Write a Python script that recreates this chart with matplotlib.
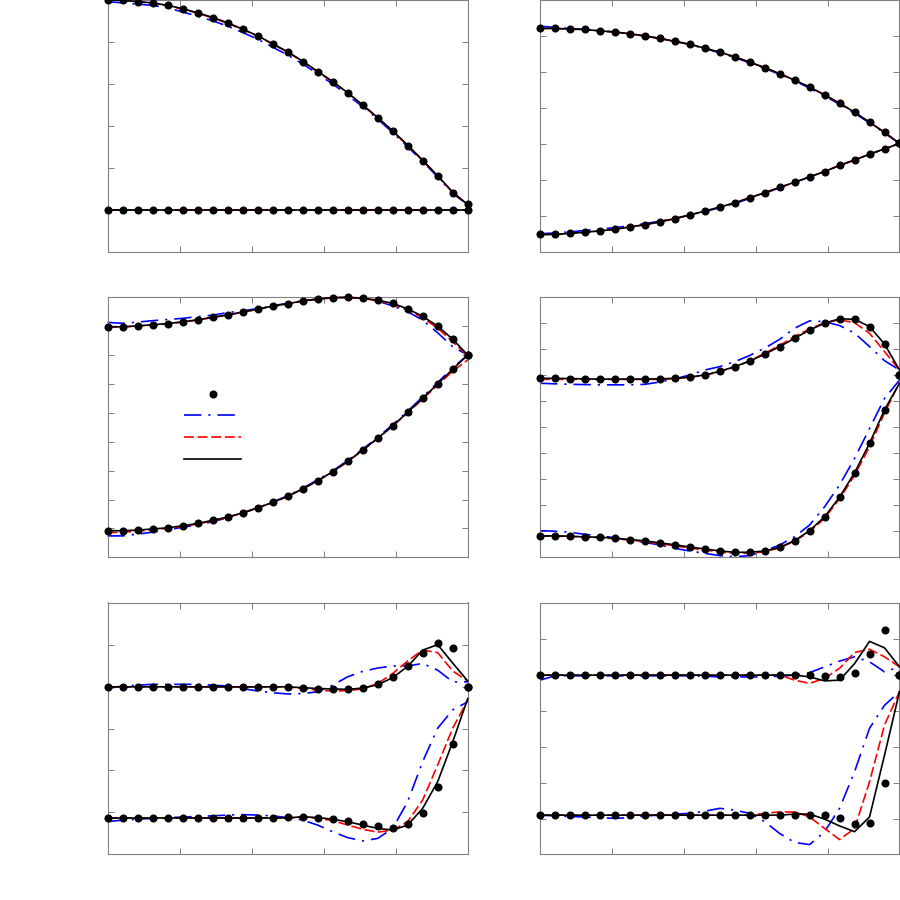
import numpy as np
import matplotlib
matplotlib.use("Agg")
import matplotlib.pyplot as plt
from matplotlib.lines import Line2D

plt.rcParams['lines.scale_dashes'] = False

# common x grid (chordwise position)
x = np.linspace(0.0, 1.0, 25)

# ---------------- panel 1 ----------------
p1_ref_up = [5.00, 4.99, 4.96, 4.93, 4.87, 4.79, 4.69, 4.58, 4.45, 4.30, 4.14, 3.95, 3.76,
             3.53, 3.29, 3.05, 2.78, 2.49, 2.19, 1.87, 1.53, 1.17, 0.80, 0.41, 0.14]
p1_ref_lo = [0.0] * 25
p1_blue_up = [4.96, 4.93, 4.90, 4.87, 4.81, 4.71, 4.61, 4.50, 4.37, 4.22, 4.06, 3.87, 3.68,
              3.47, 3.23, 2.99, 2.72, 2.45, 2.15, 1.83, 1.49, 1.14, 0.77, 0.38, 0.12]
p1_blue_lo = [0.0] * 25
p1_red_up = [5.00, 4.99, 4.96, 4.92, 4.86, 4.78, 4.68, 4.57, 4.44, 4.29, 4.13, 3.94, 3.75,
             3.52, 3.28, 3.04, 2.77, 2.48, 2.18, 1.86, 1.52, 1.16, 0.79, 0.40, 0.12]
p1_red_lo = [0.0] * 25
p1_blk_up = [5.00, 4.99, 4.96, 4.93, 4.87, 4.79, 4.69, 4.58, 4.45, 4.30, 4.14, 3.95, 3.76,
             3.53, 3.29, 3.05, 2.78, 2.49, 2.19, 1.87, 1.53, 1.17, 0.80, 0.41, 0.12]
p1_blk_lo = [0.0] * 25

# ---------------- panel 2 ----------------
p2_ref_up = [3.21, 3.21, 3.19, 3.18, 3.14, 3.11, 3.06, 3.00, 2.93, 2.85, 2.77, 2.66, 2.55,
             2.42, 2.27, 2.12, 1.95, 1.77, 1.58, 1.36, 1.13, 0.88, 0.60, 0.32, 0.01]
p2_ref_lo = [-2.52, -2.52, -2.49, -2.46, -2.42, -2.38, -2.31, -2.25, -2.17, -2.08, -1.98, -1.87,
             -1.76, -1.64, -1.50, -1.36, -1.21, -1.07, -0.92, -0.77, -0.60, -0.45, -0.29, -0.14, 0.01]
p2_blue_up = [3.27, 3.24, 3.21, 3.18, 3.14, 3.11, 3.06, 3.00, 2.93, 2.85, 2.76, 2.65, 2.53,
              2.40, 2.25, 2.10, 1.93, 1.75, 1.55, 1.33, 1.10, 0.85, 0.58, 0.30, 0.01]
p2_blue_lo = [-2.50, -2.48, -2.45, -2.41, -2.37, -2.33, -2.28, -2.22, -2.15, -2.07, -1.98, -1.88,
              -1.78, -1.66, -1.52, -1.38, -1.22, -1.07, -0.92, -0.77, -0.60, -0.45, -0.29, -0.14, 0.01]
p2_red_up = p2_ref_up[:-1] + [0.0]
p2_red_lo = p2_ref_lo[:-1] + [0.0]
p2_blk_up = p2_ref_up
p2_blk_lo = p2_ref_lo

# ---------------- panel 3 ----------------
p3_ref_up = [0.98, 0.98, 1.01, 1.05, 1.09, 1.15, 1.22, 1.31, 1.39, 1.49, 1.59, 1.69, 1.78,
             1.87, 1.94, 1.99, 2.00, 1.97, 1.90, 1.79, 1.60, 1.34, 1.00, 0.55, 0.00]
p3_ref_lo = [-6.08, -6.08, -6.06, -6.02, -5.98, -5.91, -5.83, -5.72, -5.61, -5.46, -5.29, -5.10,
             -4.89, -4.63, -4.35, -4.04, -3.68, -3.29, -2.88, -2.45, -1.98, -1.49, -1.00, -0.49, 0.00]
p3_blue_up = [1.13, 1.10, 1.14, 1.19, 1.23, 1.27, 1.33, 1.38, 1.47, 1.53, 1.61, 1.71, 1.79,
              1.88, 1.94, 1.99, 1.99, 1.96, 1.87, 1.70, 1.50, 1.21, 0.77, 0.29, 0.00]
p3_blue_lo = [-6.26, -6.26, -6.20, -6.13, -6.05, -5.96, -5.88, -5.77, -5.63, -5.47, -5.29, -5.09,
              -4.87, -4.61, -4.32, -4.01, -3.65, -3.26, -2.85, -2.41, -1.94, -1.45, -0.95, -0.44, 0.00]
p3_red_up = [0.97, 0.97, 1.00, 1.04, 1.08, 1.14, 1.21, 1.30, 1.38, 1.48, 1.58, 1.68, 1.77,
             1.86, 1.93, 1.98, 1.99, 1.96, 1.88, 1.76, 1.56, 1.29, 0.93, 0.46, -0.02]
p3_red_lo = [-6.15, -6.13, -6.10, -6.05, -6.00, -5.93, -5.85, -5.74, -5.62, -5.47, -5.30, -5.11,
             -4.90, -4.64, -4.36, -4.05, -3.69, -3.30, -2.89, -2.46, -2.00, -1.52, -1.04, -0.56, -0.17]
p3_blk_up = p3_ref_up
p3_blk_lo = p3_ref_lo

# ---------------- panel 4 ----------------
p4_ref_up = [-0.12, -0.12, -0.13, -0.14, -0.15, -0.15, -0.15, -0.15, -0.14, -0.12, -0.07, 0.01,
             0.15, 0.33, 0.54, 0.81, 1.10, 1.42, 1.74, 2.00, 2.17, 2.15, 1.87, 1.20, 0.01]
p4_ref_lo = [-6.18, -6.18, -6.19, -6.22, -6.23, -6.27, -6.32, -6.37, -6.45, -6.52, -6.61, -6.68,
             -6.76, -6.81, -6.81, -6.76, -6.62, -6.36, -5.98, -5.44, -4.69, -3.75, -2.62, -1.33, 0.01]
p4_blue_up = [-0.31, -0.33, -0.35, -0.36, -0.37, -0.37, -0.37, -0.35, -0.26, -0.14, 0.01, 0.20,
              0.33, 0.52, 0.76, 1.04, 1.38, 1.81, 2.09, 2.06, 1.91, 1.62, 1.10, 0.56, 0.20]
p4_blue_lo = [-5.98, -6.00, -6.04, -6.12, -6.18, -6.25, -6.34, -6.43, -6.53, -6.66, -6.76, -6.85,
              -6.94, -6.98, -6.94, -6.75, -6.53, -6.21, -5.76, -5.06, -4.22, -3.20, -2.05, -0.89, -0.19]
p4_red_up = [-0.16, -0.16, -0.16, -0.16, -0.16, -0.16, -0.16, -0.16, -0.16, -0.13, -0.08, 0.00,
             0.13, 0.31, 0.56, 0.84, 1.15, 1.49, 1.78, 2.02, 2.13, 2.02, 1.61, 0.91, 0.20]
p4_red_lo = [-6.19, -6.19, -6.20, -6.23, -6.25, -6.29, -6.34, -6.40, -6.48, -6.56, -6.65, -6.72,
             -6.80, -6.85, -6.85, -6.79, -6.64, -6.38, -6.02, -5.50, -4.75, -3.85, -2.75, -1.45, -0.28]
p4_blk_up = p4_ref_up[:-1] + [0.20]
p4_blk_lo = p4_ref_lo[:-1] + [-0.31]

# ---------------- panel 5 ----------------
p5_ref_up = [0.0] * 13 + [-0.02, -0.04, -0.06, -0.06, -0.02, 0.06, 0.24, 0.49, 0.81, 1.04, 0.92, 0.00]
p5_ref_lo = [-3.15] * 12 + [-3.12, -3.11, -3.13, -3.16, -3.21, -3.28, -3.34, -3.39, -3.29,
                            -3.01, -2.39, -1.36, 0.00]
p5_blue_up = [-0.04, 0.02, 0.04, 0.06, 0.06, 0.06, 0.06, 0.04, 0.02, -0.04, -0.10, -0.14, -0.17,
              -0.16, -0.12, 0.04, 0.24, 0.37, 0.45, 0.50, 0.50, 0.56, 0.40, 0.12, 0.12]
p5_blue_lo = [-3.23, -3.19, -3.17, -3.15, -3.13, -3.12, -3.10, -3.09, -3.07, -3.06, -3.07, -3.09,
              -3.13, -3.19, -3.31, -3.47, -3.61, -3.69, -3.63, -3.39, -2.75, -1.79, -0.99, -0.55, -0.36]
p5_red_up = [0.0] * 13 + [-0.04, -0.08, -0.10, -0.09, -0.05, 0.08, 0.32, 0.62, 0.88, 0.82, 0.38, 0.14]
p5_red_lo = [-3.14] * 13 + [-3.12, -3.15, -3.20, -3.31, -3.41, -3.48, -3.43, -3.23, -2.71,
                            -1.87, -0.99, -0.32]
p5_blk_up = [0.0] * 13 + [-0.02, -0.04, -0.05, -0.06, -0.03, 0.05, 0.22, 0.49, 0.88, 1.01, 0.57, 0.14]
p5_blk_lo = [-3.14] * 13 + [-3.11, -3.13, -3.17, -3.23, -3.31, -3.39, -3.43, -3.31, -2.91,
                            -2.27, -1.32, -0.28]

# ---------------- panel 6 ----------------
p6_ref_up = [0.0] * 19 + [-0.03, -0.05, 0.07, 0.59, 1.27, 0.00]
p6_ref_lo = [-3.90] * 20 + [-3.99, -4.15, -4.11, -3.00, 0.00]
p6_blue_up = [-0.14, -0.02, -0.02, -0.02, -0.02, -0.02, -0.02, -0.02, -0.02, -0.02, -0.02, -0.03,
              -0.05, -0.05, -0.05, -0.05, -0.03, 0.00, 0.07, 0.23, 0.39, 0.51, 0.37, 0.09, 0.23]
p6_blue_lo = [-3.90, -3.92, -3.94, -3.95, -3.97, -3.99, -3.97, -3.92, -3.90, -3.87, -3.85, -3.79,
              -3.71, -3.76, -3.85, -4.08, -4.41, -4.66, -4.72, -4.36, -3.71, -2.69, -1.48, -0.84, -0.46]
p6_red_up = [0.0] * 17 + [-0.14, -0.23, -0.09, 0.19, 0.63, 0.72, 0.51, 0.23]
p6_red_lo = [-3.90] * 15 + [-3.85, -3.81, -3.81, -3.95, -4.27, -4.58, -4.27, -2.97, -1.39, -0.46]
p6_blk_up = [0.0] * 18 + [-0.05, -0.16, -0.14, 0.32, 0.94, 0.76, 0.23]
p6_blk_lo = [-3.90] * 17 + [-3.87, -3.87, -4.01, -4.20, -4.36, -3.95, -2.23, -0.46]

panels = [
    dict(ref=(p1_ref_up, p1_ref_lo), blue=(p1_blue_up, p1_blue_lo), red=(p1_red_up, p1_red_lo),
         blk=(p1_blk_up, p1_blk_lo), ylim=(-1.0, 5.0), yticks=[0, 1, 2, 3, 4, 5]),
    dict(ref=(p2_ref_up, p2_ref_lo), blue=(p2_blue_up, p2_blue_lo), red=(p2_red_up, p2_red_lo),
         blk=(p2_blk_up, p2_blk_lo), ylim=(-3.0, 4.0), yticks=[-2, -1, 0, 1, 2, 3]),
    dict(ref=(p3_ref_up, p3_ref_lo), blue=(p3_blue_up, p3_blue_lo), red=(p3_red_up, p3_red_lo),
         blk=(p3_blk_up, p3_blk_lo), ylim=(-6.98, 2.02), yticks=[-6, -5, -4, -3, -2, -1, 0, 1]),
    dict(ref=(p4_ref_up, p4_ref_lo), blue=(p4_blue_up, p4_blue_lo), red=(p4_red_up, p4_red_lo),
         blk=(p4_blk_up, p4_blk_lo), ylim=(-6.98, 3.02), yticks=[-6, -5, -4, -3, -2, -1, 0, 1, 2]),
    dict(ref=(p5_ref_up, p5_ref_lo), blue=(p5_blue_up, p5_blue_lo), red=(p5_red_up, p5_red_lo),
         blk=(p5_blk_up, p5_blk_lo), ylim=(-4.01, 2.02), yticks=[-3, -2, -1, 0, 1]),
    dict(ref=(p6_ref_up, p6_ref_lo), blue=(p6_blue_up, p6_blue_lo), red=(p6_red_up, p6_red_lo),
         blk=(p6_blk_up, p6_blk_lo), ylim=(-4.99, 2.0), yticks=[-4, -3, -2, -1, 0, 1]),
]

# axes rectangles in pixels: (left, top, width, height)
W = H = 900.0
rects = [(108.3, 0.0, 360.0, 252.0), (540.0, 0.0, 359.5, 251.7),
         (107.5, 296.7, 360.2, 260.0), (540.0, 296.7, 359.5, 260.0),
         (107.5, 602.5, 360.2, 251.8), (540.0, 603.3, 359.5, 251.0)]

GRAY = '#808080'
BLUE_DASH = (0, (12.5, 5.0, 1.6, 5.0))
RED_DASH = (0, (7.2, 2.6))
LW = 1.2

fig = plt.figure(figsize=(9, 9), dpi=100)
fig.patch.set_facecolor('white')

axes = []
for p, (l, t, w, h) in zip(panels, rects):
    ax = fig.add_axes([l / W, 1 - (t + h) / H, w / W, h / H])
    for ys in p['blue']:
        ax.plot(x, ys, color='#0000ff', lw=LW, linestyle=BLUE_DASH, clip_on=False, zorder=2)
    for ys in p['red']:
        ax.plot(x, ys, color='#ff0000', lw=LW, linestyle=RED_DASH, clip_on=False, zorder=3)
    for ys in p['blk']:
        ax.plot(x, ys, color='black', lw=LW, linestyle='-', clip_on=False, zorder=4)
    for ys in p['ref']:
        ax.plot(x, ys, linestyle='none', marker='o', ms=4.8, color='black', mec='black',
                clip_on=False, zorder=5)
    ax.set_xlim(0, 1)
    ax.set_ylim(*p['ylim'])
    ax.set_xticks([0, 0.2, 0.4, 0.6, 0.8, 1.0])
    ax.set_yticks(p['yticks'])
    ax.tick_params(direction='in', length=4.3, width=0.7, color=GRAY,
                   top=True, right=True, labelbottom=False, labelleft=False)
    for s in ax.spines.values():
        s.set_color(GRAY)
        s.set_linewidth(0.8)
    axes.append(ax)

handles = [Line2D([], [], linestyle='none', marker='o', ms=4.8, color='black'),
           Line2D([], [], color='#0000ff', lw=LW, linestyle=BLUE_DASH),
           Line2D([], [], color='#ff0000', lw=LW, linestyle=RED_DASH),
           Line2D([], [], color='black', lw=LW)]
axes[2].legend(handles, [' '] * 4, loc='upper left', bbox_to_anchor=(0.2125, 0.65),
               frameon=False, borderpad=0.0, borderaxespad=0.0, handlelength=4.1,
               handletextpad=0.2, labelspacing=0.55, fontsize=10)

fig.savefig('out.png', dpi=100, facecolor='white')
